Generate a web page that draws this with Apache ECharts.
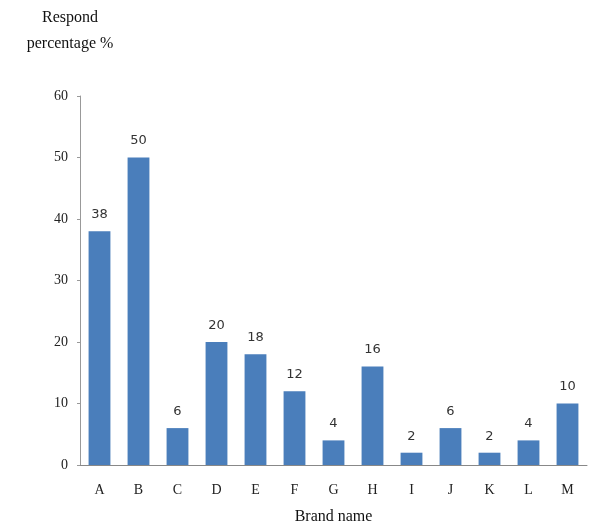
<!DOCTYPE html>
<html>
<head>
<meta charset="utf-8">
<script src="https://cdn.jsdelivr.net/npm/echarts@6/dist/echarts.min.js"></script>
<style>
  html, body { margin: 0; padding: 0; background: #fff; }
  #chart { width: 590px; height: 528px; }
</style>
</head>
<body>
<div id="chart"></div>
<script>
// Brands surveyed and the share of respondents choosing each one
const brands = ['A', 'B', 'C', 'D', 'E', 'F', 'G', 'H', 'I', 'J', 'K', 'L', 'M'];
const respondPercent = [38, 50, 6, 20, 18, 12, 4, 16, 2, 6, 2, 4, 10];
const yTicks = [0, 10, 20, 30, 40, 50, 60];

const serif = '"Liberation Serif", "DejaVu Serif", serif';
const chart = echarts.init(document.getElementById('chart'));

chart.setOption({
  animation: false,
  backgroundColor: '#ffffff',
  grid: { left: 80, right: 3, top: 96, bottom: 63, containLabel: false, outerBoundsMode: 'none' },
  graphic: [
    {
      type: 'text',
      x: 70,
      y: 5,
      style: {
        text: 'Respond\npercentage %',
        font: '16px ' + serif,
        fill: '#111',
        textAlign: 'center',
        lineHeight: 26
      }
    }
  ],
  xAxis: {
    type: 'category',
    data: brands,
    name: 'Brand name',
    nameLocation: 'middle',
    nameGap: 44,
    nameTextStyle: { fontFamily: serif, fontSize: 16, color: '#111' },
    axisLine: { lineStyle: { color: '#888', width: 1 } },
    axisTick: { show: false },
    axisLabel: { fontFamily: serif, fontSize: 14, color: '#222', margin: 18 }
  },
  yAxis: {
    type: 'value',
    min: yTicks[0],
    max: yTicks[yTicks.length - 1],
    interval: 10,
    axisLine: { show: true, lineStyle: { color: '#999', width: 1 } },
    axisTick: { show: true, inside: false, length: 3, lineStyle: { color: '#999' } },
    splitLine: { show: false },
    axisLabel: { fontFamily: serif, fontSize: 14, color: '#222', margin: 12 }
  },
  series: [{
    type: 'bar',
    data: respondPercent,
    barWidth: '56%',
    itemStyle: { color: '#4a7ebb' },
    label: {
      show: true,
      position: 'top',
      distance: 10,
      fontFamily: '"DejaVu Sans", sans-serif',
      fontSize: 13,
      color: '#333'
    }
  }]
});
</script>
</body>
</html>
